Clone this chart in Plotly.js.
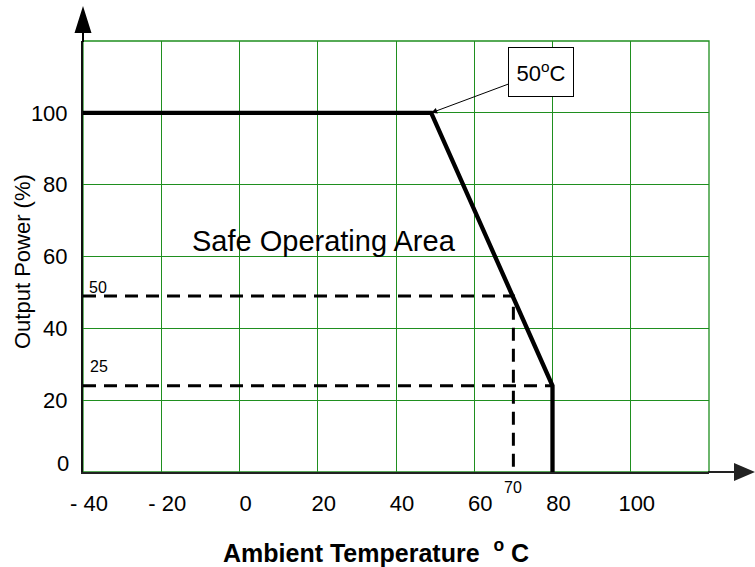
<!DOCTYPE html>
<html>
<head>
<meta charset="utf-8">
<script src="https://cdn.plot.ly/plotly-3.0.1.min.js"></script>
<style>html,body{margin:0;padding:0;background:#fff;}#chart{width:755px;height:567px;}</style>
</head>
<body>
<div id="chart"></div>
<script>
// Derating curve (ambient temperature °C vs output power %)
const curveTemp = [-40, 49, 80, 80];
const curvePower = [100, 100, 24, 0];
// Dashed guide lines
const guide50Temp = [-40, 70, 70];
const guide50Power = [49, 49, 0];
const guide25Temp = [-40, 80];
const guide25Power = [24, 24];
// Ticks
const xTickVals = [-40, -20, 0, 20, 40, 60, 80, 100];
const xTickText = ['- 40', '- 20', '0', '20', '40', '60', '80', '100'];
const yTickVals = [0, 20, 40, 60, 80, 100];
const yTickText = ['0', '20', '40', '60', '80', '100'];
// Labels
const cornerLabel = '50<sup>o</sup>C';
const areaLabel = 'Safe Operating Area';
const guideLabels = ['50', '25', '70'];

const FONT = 'Arial, "Liberation Sans", sans-serif';
const GRID = '#1f8f1f';

const traces = [
  {x: guide50Temp, y: guide50Power, mode: 'lines', cliponaxis: false,
   line: {color: '#000', width: 3, dash: '13px,8px'}, hoverinfo: 'skip'},
  {x: guide25Temp, y: guide25Power, mode: 'lines', cliponaxis: false,
   line: {color: '#000', width: 3, dash: '13px,8px'}, hoverinfo: 'skip'},
  {x: curveTemp, y: curvePower, mode: 'lines', cliponaxis: false,
   line: {color: '#000', width: 4.3}, hoverinfo: 'skip'}
];

const layout = {
  width: 755, height: 567,
  margin: {l: 83, r: 46, t: 41, b: 95, pad: 0},
  paper_bgcolor: '#fff', plot_bgcolor: '#fff',
  showlegend: false,
  font: {family: FONT, color: '#000', size: 22},
  xaxis: {
    range: [-40, 120], tickvals: xTickVals, ticktext: xTickText,
    showgrid: true, gridcolor: GRID, gridwidth: 1, zeroline: false,
    showline: true, linecolor: '#222', linewidth: 2,
    ticks: '', ticklabelstandoff: 11, ticklabelshift: 6,
    tickfont: {size: 22, family: FONT, color: '#000'}, fixedrange: true
  },
  yaxis: {
    range: [0, 120], tickvals: yTickVals.slice(1), ticktext: yTickText.slice(1),
    showgrid: true, gridcolor: GRID, gridwidth: 1, zeroline: false,
    showline: true, linecolor: '#111', linewidth: 2,
    ticks: '', ticklabelstandoff: 9,
    tickfont: {size: 22, family: FONT, color: '#000'}, fixedrange: true
  },
  shapes: [
    {type: 'rect', xref: 'paper', yref: 'paper', x0: 0, x1: 1, y0: 0, y1: 1,
     line: {color: GRID, width: 1.3}, layer: 'below'},
    {type: 'path', xref: 'paper', yref: 'paper', xsizemode: 'pixel', ysizemode: 'pixel',
     xanchor: 0, yanchor: 1,
     path: 'M -1 -1 L -1 8 L -8.5 8 L 0 35 L 8.5 8 L 1 8 L 1 -1 Z',
     fillcolor: '#000', line: {width: 0}},
    {type: 'path', xref: 'paper', yref: 'paper', xsizemode: 'pixel', ysizemode: 'pixel',
     xanchor: 1, yanchor: 0,
     path: 'M -1 -1 L 25 -1 L 25 -9 L 46 0 L 25 9 L 25 1 L -1 1 Z',
     fillcolor: '#222', line: {width: 0}}
  ],
  annotations: [
    {x: curveTemp[1], y: curvePower[1], xref: 'x', yref: 'y', text: cornerLabel,
     showarrow: true, ax: 110, ay: -41, arrowhead: 2, arrowsize: 1.2, arrowwidth: 1,
     arrowcolor: '#000', standoff: 0, bordercolor: '#000', borderwidth: 1, borderpad: 6,
     width: 52, height: 36, align: 'center', valign: 'middle',
     bgcolor: '#fff', font: {size: 22, family: FONT, color: '#000'}},
    {x: 21.6, y: 64.3, xref: 'x', yref: 'y', text: areaLabel, showarrow: false,
     font: {size: 29, family: FONT, color: '#000'}},
    {x: -0.019, y: 0.019, xref: 'paper', yref: 'paper', text: yTickText[0], showarrow: false,
     xanchor: 'right', yanchor: 'middle', font: {size: 22, family: FONT, color: '#000'}},
    {x: -36.2, y: 51.4, xref: 'x', yref: 'y', text: guideLabels[0], showarrow: false,
     font: {size: 16, family: FONT, color: '#000'}},
    {x: -35.9, y: 29.5, xref: 'x', yref: 'y', text: guideLabels[1], showarrow: false,
     font: {size: 16, family: FONT, color: '#000'}},
    {x: 70, y: -0.037, xref: 'x', yref: 'paper', text: guideLabels[2], showarrow: false,
     yanchor: 'middle', font: {size: 16, family: FONT, color: '#000'}},
    {x: -0.0969, y: 0.488, xref: 'paper', yref: 'paper', text: 'Output Power (%)',
     textangle: -90, showarrow: false, xanchor: 'center', yanchor: 'middle',
     font: {size: 22, family: FONT, color: '#000'}},
    {x: 0.468, y: -0.1836, xref: 'paper', yref: 'paper',
     text: '<b>Ambient Temperature&nbsp;&nbsp;<sup>o</sup>&nbsp;C</b>',
     showarrow: false, xanchor: 'center', yanchor: 'middle',
     font: {size: 25, family: FONT, color: '#000'}}
  ]
};

Plotly.newPlot('chart', traces, layout, {staticPlot: true, displayModeBar: false});
</script>
</body>
</html>
